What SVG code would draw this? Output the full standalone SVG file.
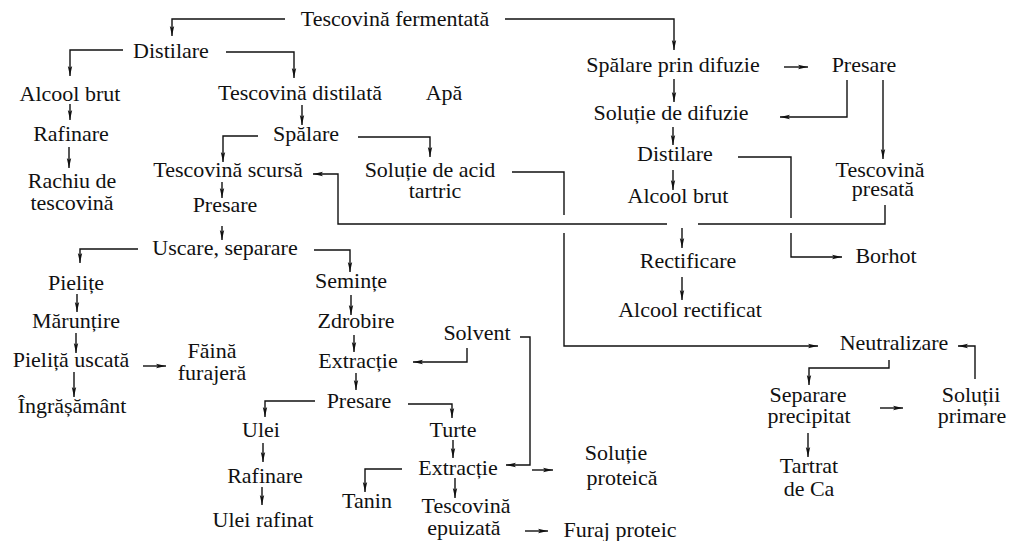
<svg xmlns="http://www.w3.org/2000/svg" width="1010" height="541" viewBox="0 0 1010 541">
  <style>
    .t text { font-family: 'Liberation Serif', 'Times New Roman', 'DejaVu Serif', serif; font-size: 22px; fill: #111; text-anchor: middle; }
    .c path { fill: none; stroke: #111; stroke-width: 1.4; }
    .a { marker-end: url(#arr); }
  </style>
  <defs>
    <marker id="arr" markerUnits="userSpaceOnUse" viewBox="0 -3 11 6" refX="10" refY="0" markerWidth="11" markerHeight="6" orient="auto">
      <path d="M0,-2.2 L10,0 L0,2.2 L2,0 z" fill="#111"/>
    </marker>
  </defs>
  <rect width="1010" height="541" fill="#fff"/>

  <!-- connectors -->
  <g id="connectors" class="c">
    <path class="a" d="M285,19 H172 V36"/>
    <path class="a" d="M505,19 H674 V50"/>
    <path class="a" d="M123,50 H70 V76"/>
    <path class="a" d="M226,52 H294 V78"/>
    <path class="a" d="M70,104 V120"/>
    <path class="a" d="M69,147 V168"/>
    <path class="a" d="M302,105 V125"/>
    <path class="a" d="M258,136 H223 V162"/>
    <path class="a" d="M358,137 H430 V157"/>
    <path class="a" d="M222,182 V198"/>
    <path class="a" d="M222,226 V240"/>
    <path class="a" d="M138,249 H80 V263"/>
    <path class="a" d="M314,250 H350 V272"/>
    <path class="a" d="M77,294 V312"/>
    <path class="a" d="M76,333 V353"/>
    <path class="a" d="M143,366 H166"/>
    <path class="a" d="M74,372 V397"/>
    <path class="a" d="M351,295 V315"/>
    <path class="a" d="M354,335 V352"/>
    <path class="a" d="M467,348 V362 H413"/>
    <path class="a" d="M356,373 V390"/>
    <path class="a" d="M315,401 H265 V417"/>
    <path class="a" d="M408,404 H452 V418"/>
    <path class="a" d="M263,443 V462"/>
    <path class="a" d="M262,487 V505"/>
    <path class="a" d="M453,440 V458"/>
    <path class="a" d="M520,337 H530 V465 H506"/>
    <path class="a" d="M402,469 H365 V492"/>
    <path class="a" d="M455,478 V498"/>
    <path class="a" d="M532,470 H553"/>
    <path class="a" d="M525,531 H548"/>
    <path class="a" d="M784,67 H808"/>
    <path class="a" d="M674,79 V102"/>
    <path class="a" d="M847,80 V117 H780"/>
    <path class="a" d="M883,80 V159"/>
    <path class="a" d="M673,127 V145"/>
    <path class="a" d="M673,170 V190"/>
    <path d="M738,157 H791 V218"/>
    <path class="a" d="M791,233 V257 H842"/>
    <path d="M885,205 V224 H698"/>
    <path class="a" d="M667,224 H338 V174 H313"/>
    <path class="a" d="M682,228 V248"/>
    <path class="a" d="M682,277 V300"/>
    <path d="M512,172 H564 V215"/>
    <path class="a" d="M564,233 V346 H818"/>
    <path class="a" d="M975,379 V346 H958"/>
    <path class="a" d="M889,360 V368 H809 V385"/>
    <path class="a" d="M880,408 H903"/>
    <path class="a" d="M808,433 V457"/>
  </g>

  <!-- nodes -->
  <g class="t" font-family="Liberation Serif, serif">
  <g id="n-tescovina-fermentata"><text x="395" y="26">Tescovină fermentată</text></g>
  <g id="n-distilare-1"><text x="171" y="58">Distilare</text></g>
  <g id="n-alcool-brut-1"><text x="70" y="101">Alcool brut</text></g>
  <g id="n-tescovina-distilata"><text x="300" y="100">Tescovină distilată</text></g>
  <g id="n-apa"><text x="444" y="100">Apă</text></g>
  <g id="n-rafinare-1"><text x="71" y="141">Rafinare</text></g>
  <g id="n-spalare"><text x="306" y="141">Spălare</text></g>
  <g id="n-rachiu"><text x="72" y="188">Rachiu de<tspan x="72" dy="22">tescovină</tspan></text></g>
  <g id="n-tescovina-scursa"><text x="228" y="177">Tescovină scursă</text></g>
  <g id="n-solutie-acid"><text x="430" y="177">Soluție de acid<tspan x="435" dy="21">tartric</tspan></text></g>
  <g id="n-presare-1"><text x="225" y="212">Presare</text></g>
  <g id="n-uscare"><text x="225" y="255">Uscare, separare</text></g>
  <g id="n-pielite"><text x="76" y="290">Pielițe</text></g>
  <g id="n-maruntire"><text x="76" y="328">Mărunțire</text></g>
  <g id="n-pielita-uscata"><text x="71" y="367">Pieliță uscată</text></g>
  <g id="n-faina"><text x="212" y="358">Făină<tspan x="212" dy="22">furajeră</tspan></text></g>
  <g id="n-ingrasamant"><text x="72" y="413">Îngrășământ</text></g>
  <g id="n-seminte"><text x="351" y="288">Semințe</text></g>
  <g id="n-zdrobire"><text x="356" y="328">Zdrobire</text></g>
  <g id="n-extractie-1"><text x="358" y="368">Extracție</text></g>
  <g id="n-solvent"><text x="477" y="340">Solvent</text></g>
  <g id="n-presare-2"><text x="359" y="408">Presare</text></g>
  <g id="n-ulei"><text x="261" y="437">Ulei</text></g>
  <g id="n-rafinare-2"><text x="265" y="483">Rafinare</text></g>
  <g id="n-ulei-rafinat"><text x="263" y="527">Ulei rafinat</text></g>
  <g id="n-turte"><text x="453" y="437">Turte</text></g>
  <g id="n-extractie-2"><text x="458" y="475">Extracție</text></g>
  <g id="n-tanin"><text x="367" y="508">Tanin</text></g>
  <g id="n-tescovina-epuizata"><text x="466" y="513">Tescovină<tspan x="464" dy="22">epuizată</tspan></text></g>
  <g id="n-solutie-proteica"><text x="616" y="460">Soluție<tspan x="622" dy="25">proteică</tspan></text></g>
  <g id="n-furaj"><text x="620" y="537">Furaj proteic</text></g>
  <g id="n-spalare-difuzie"><text x="673" y="72">Spălare prin difuzie</text></g>
  <g id="n-presare-3"><text x="864" y="72">Presare</text></g>
  <g id="n-solutie-difuzie"><text x="671" y="120">Soluție de difuzie</text></g>
  <g id="n-distilare-2"><text x="675" y="161">Distilare</text></g>
  <g id="n-tescovina-presata"><text x="880" y="177">Tescovină<tspan x="883" dy="19">presată</tspan></text></g>
  <g id="n-alcool-brut-2"><text x="678" y="203">Alcool brut</text></g>
  <g id="n-rectificare"><text x="688" y="268">Rectificare</text></g>
  <g id="n-alcool-rectificat"><text x="690" y="317">Alcool rectificat</text></g>
  <g id="n-borhot"><text x="886" y="263">Borhot</text></g>
  <g id="n-neutralizare"><text x="894" y="350">Neutralizare</text></g>
  <g id="n-separare"><text x="808" y="402">Separare<tspan x="809" dy="21">precipitat</tspan></text></g>
  <g id="n-solutii-primare"><text x="971" y="402">Soluții<tspan x="972" dy="21">primare</tspan></text></g>
  <g id="n-tartrat"><text x="809" y="473">Tartrat<tspan x="809" dy="23">de Ca</tspan></text></g>
  </g>
</svg>
